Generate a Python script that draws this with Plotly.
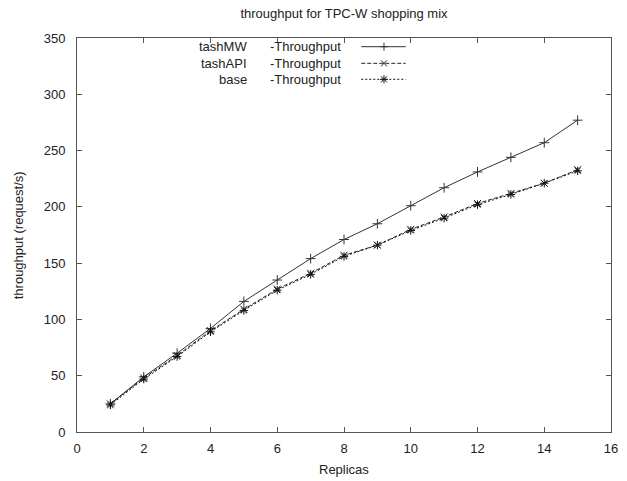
import plotly.graph_objects as go

replicas = list(range(1, 16))
tashMW = [25, 49, 70, 92, 116, 135, 154, 171, 185, 201, 217, 231, 244, 257, 277]
tashAPI = [25, 48, 68, 90, 109, 127, 141, 157, 166, 180, 191, 203, 212, 221, 233]
base = [24, 47, 67, 89, 108, 126, 140, 156, 166, 179, 190, 202, 211, 221, 232]

series_names = ["tashMW", "tashAPI", "base"]
series_values = [tashMW, tashAPI, base]
dashes = ["solid", "4px,2px", "2px,2px"]
symbols = ["cross-thin", "x-thin", "asterisk"]
line_colors = ["#333333", "#222222", "#111111"]

title_text = "throughput for TPC-W shopping mix"
x_title = "Replicas"
y_title = "throughput (request/s)"

FONT = "Liberation Sans, Arial, sans-serif"
TXT = "#222222"

fig = go.Figure()
for name, vals, dash, sym, col in zip(series_names, series_values, dashes, symbols, line_colors):
    fig.add_trace(go.Scatter(
        x=replicas, y=vals, mode="lines+markers", name=name,
        line=dict(color=col, width=1, dash=dash),
        marker=dict(symbol=sym, size=7, color=col, line=dict(color=col, width=1)),
        showlegend=False,
    ))

# plot area geometry (pixels) for legend placement
L, R, T, B = 77, 9, 38, 49
W, H = 627, 481
pw, ph = W - L - R, H - T - B

def px2x(px):
    return (px - L) / pw

def py2y(py):
    return (H - B - py) / ph

legend_rows = [46.7, 63.3, 79.3]
marker_paths = [
    "M-4,0 L4,0 M0,-4 L0,4",
    "M-3,-3 L3,3 M-3,3 L3,-3",
    "M-4,0 L4,0 M0,-4 L0,4 M-3,-3 L3,3 M-3,3 L3,-3",
]
shapes = []
annotations = []
for name, row, dash, path, col in zip(series_names, legend_rows, dashes, marker_paths, line_colors):
    annotations.append(dict(x=px2x(251), y=py2y(row), xref="paper", yref="paper",
                            text=name, showarrow=False, xanchor="right", yanchor="middle",
                            font=dict(family=FONT, size=13, color=TXT)))
    annotations.append(dict(x=px2x(271), y=py2y(row), xref="paper", yref="paper",
                            text="-Throughput", showarrow=False, xanchor="left", yanchor="middle",
                            font=dict(family=FONT, size=13, color=TXT)))
    shapes.append(dict(type="line", xref="paper", yref="paper",
                       x0=px2x(365), x1=px2x(410), y0=py2y(row), y1=py2y(row),
                       line=dict(color=col, width=1, dash=dash)))
    shapes.append(dict(type="path", xref="paper", yref="paper",
                       xsizemode="pixel", ysizemode="pixel",
                       xanchor=px2x(388), yanchor=py2y(row),
                       path=path, line=dict(color=col, width=1)))

annotations.append(dict(x=0.5, y=py2y(469), xref="paper", yref="paper", text=x_title,
                        showarrow=False, xanchor="center", yanchor="middle",
                        font=dict(family=FONT, size=13, color=TXT)))
annotations.append(dict(x=px2x(17.5), y=0.5, xref="paper", yref="paper", text=y_title,
                        showarrow=False, xanchor="center", yanchor="middle", textangle=-90,
                        font=dict(family=FONT, size=13, color=TXT)))

axis_common = dict(showgrid=False, zeroline=False, showline=True, linecolor="#555555",
                   linewidth=1, ticks="inside", ticklen=5, tickcolor="#555555",
                   mirror="ticks", tickfont=dict(family=FONT, size=13, color=TXT))

fig.update_layout(
    width=W, height=H,
    margin=dict(l=L, r=R, t=T, b=B),
    paper_bgcolor="white", plot_bgcolor="white",
    hovermode=False,
    title=dict(text=title_text, x=0.5, xref="paper", xanchor="center",
               y=1 - 13 / H, yanchor="middle",
               font=dict(family=FONT, size=13, color=TXT)),
    xaxis=dict(range=[0, 16], dtick=2, tick0=0, ticklabelstandoff=4, **axis_common),
    yaxis=dict(range=[0, 350], dtick=50, tick0=0, ticklabelstandoff=8, **axis_common),
    shapes=shapes, annotations=annotations,
)

fig.write_html("out.html", config={"displayModeBar": False},
               post_script="document.body.style.margin='0';document.body.style.overflow='hidden';")
